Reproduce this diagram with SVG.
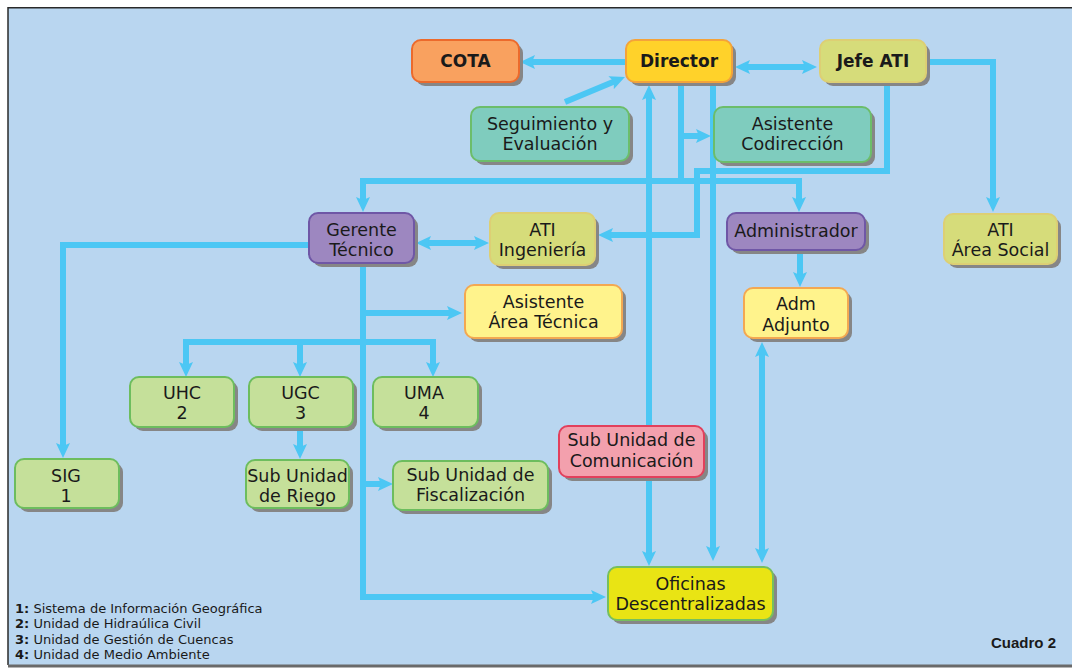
<svg xmlns="http://www.w3.org/2000/svg" width="1072" height="668" viewBox="0 0 1072 668">
<defs>
<marker id="ah" viewBox="0 0 15 14" markerWidth="15" markerHeight="14" refX="4" refY="7" orient="auto-start-reverse" markerUnits="userSpaceOnUse">
<path d="M0,0 L15,7 L0,14 L3,7 z" fill="#4cc7f4"/>
</marker>
</defs>
<style>
.c{fill:none;stroke:#4cc7f4;stroke-width:6;stroke-linejoin:miter}
.a{marker-end:url(#ah)}
.b{marker-start:url(#ah);marker-end:url(#ah)}
.sh{fill:#868686}
.n{stroke-width:2}
.t{font-family:"DejaVu Sans",Verdana,sans-serif;font-size:17.5px;fill:#1a1a1a;text-anchor:middle}
.tb{font-family:"DejaVu Sans",Verdana,sans-serif;font-size:17px;font-weight:bold;fill:#1a1a1a;text-anchor:middle}
.or{fill:#f9a15f;stroke:#ec6a2c}
.dir{fill:#ffd22a;stroke:#f4a33a}
.ati{fill:#d6dc7a;stroke:#ddcf74}
.tea{fill:#7fccbe;stroke:#6cbd6a}
.pur{fill:#9d87c0;stroke:#6f57a6}
.ly{fill:#fff38c;stroke:#f3a852}
.gr{fill:#c5e09a;stroke:#6dbd5e}
.pk{fill:#f3a0ad;stroke:#e2405c}
.of{fill:#e9e414;stroke:#76bf5e}
.lg{font-family:"DejaVu Sans",Verdana,sans-serif;font-size:13px;fill:#1a1a1a}
</style>
<rect x="0" y="0" width="1072" height="668" fill="#ffffff"/>
<rect x="8" y="8" width="1064" height="657" fill="#b9d6f0"/>
<line x1="8" y1="7.75" x2="1072" y2="7.75" stroke="#2a2a2a" stroke-width="1.5"/>
<line x1="8" y1="7" x2="8" y2="665" stroke="#2a2a2a" stroke-width="1.5"/>
<line x1="8" y1="666" x2="1072" y2="666" stroke="#6a6a6a" stroke-width="3"/>

<g id="connectors">
<path class="c a" d="M626,62 H531"/>
<path class="c b" d="M746,67 H806"/>
<path class="c a" d="M565,102 L614.8,81.2"/>
<path class="c a" d="M926,62 H993 V201"/>
<path class="c a" d="M887,82 V171 H697 V235 H609"/>
<path class="c" d="M681,82 V181"/>
<path class="c a" d="M681,136 H700"/>
<path class="c b" d="M363,201 V181 H799 V201"/>
<path class="c a" d="M713,82 V550"/>
<path class="c b" d="M649,96 V555"/>
<path class="c b" d="M762,353 V552"/>
<path class="c a" d="M800,250 V276"/>
<path class="c a" d="M309,245 H63 V447"/>
<path class="c b" d="M427,243 H478"/>
<path class="c a" d="M363,263 V597 H595"/>
<path class="c a" d="M363,313 H451"/>
<path class="c b" d="M186,366 V342 H433 V366"/>
<path class="c a" d="M300,342 V366"/>
<path class="c a" d="M300,427 V448"/>
<path class="c a" d="M363,484 H382"/>
</g>

<g id="cota">
<rect class="sh" x="416" y="44" width="107" height="42" rx="9"/>
<rect class="n or" x="412" y="40" width="107" height="42" rx="9"/>
<text class="tb" x="465.5" y="67">COTA</text>
</g>
<g id="director">
<rect class="sh" x="630" y="44" width="106" height="42" rx="9"/>
<rect class="n dir" x="626" y="40" width="106" height="42" rx="9"/>
<text class="tb" x="679" y="67">Director</text>
</g>
<g id="jefe-ati">
<rect class="sh" x="824" y="44" width="106" height="42" rx="9"/>
<rect class="n ati" x="820" y="40" width="106" height="42" rx="9"/>
<text class="tb" x="873" y="67">Jefe ATI</text>
</g>
<g id="seguimiento">
<rect class="sh" x="475" y="111" width="158" height="54" rx="9"/>
<rect class="n tea" x="471" y="107" width="158" height="54" rx="9"/>
<text class="t" x="550" y="130">Seguimiento y</text>
<text class="t" x="550" y="150">Evaluación</text>
</g>
<g id="asistente-codireccion">
<rect class="sh" x="718" y="111" width="157" height="55" rx="9"/>
<rect class="n tea" x="714" y="107" width="157" height="55" rx="9"/>
<text class="t" x="792.5" y="130">Asistente</text>
<text class="t" x="792.5" y="150">Codirección</text>
</g>
<g id="gerente-tecnico">
<rect class="sh" x="313" y="217" width="105" height="50" rx="9"/>
<rect class="n pur" x="309" y="213" width="105" height="50" rx="9"/>
<text class="t" x="361.5" y="236">Gerente</text>
<text class="t" x="361.5" y="256">Técnico</text>
</g>
<g id="ati-ingenieria">
<rect class="sh" x="494" y="217" width="105" height="52" rx="9"/>
<rect class="n ati" x="490" y="213" width="105" height="52" rx="9"/>
<text class="t" x="542.5" y="236">ATI</text>
<text class="t" x="542.5" y="256">Ingeniería</text>
</g>
<g id="administrador">
<rect class="sh" x="731" y="217" width="138" height="37" rx="9"/>
<rect class="n pur" x="727" y="213" width="138" height="37" rx="9"/>
<text class="t" x="796" y="237">Administrador</text>
</g>
<g id="ati-area-social">
<rect class="sh" x="948" y="218" width="113" height="50" rx="9"/>
<rect class="n ati" x="944" y="214" width="113" height="50" rx="9"/>
<text class="t" x="1000.5" y="236">ATI</text>
<text class="t" x="1000.5" y="256">Área Social</text>
</g>
<g id="asistente-area-tecnica">
<rect class="sh" x="469" y="289" width="157" height="53" rx="9"/>
<rect class="n ly" x="465" y="285" width="157" height="53" rx="9"/>
<text class="t" x="543.5" y="308">Asistente</text>
<text class="t" x="543.5" y="328">Área Técnica</text>
</g>
<g id="adm-adjunto">
<rect class="sh" x="748" y="292" width="104" height="50" rx="9"/>
<rect class="n ly" x="744" y="288" width="104" height="50" rx="9"/>
<text class="t" x="796" y="310">Adm</text>
<text class="t" x="796" y="331">Adjunto</text>
</g>
<g id="uhc">
<rect class="sh" x="134" y="381" width="104" height="50" rx="9"/>
<rect class="n gr" x="130" y="377" width="104" height="50" rx="9"/>
<text class="t" x="182" y="399">UHC</text>
<text class="t" x="182" y="419">2</text>
</g>
<g id="ugc">
<rect class="sh" x="253" y="381" width="104" height="50" rx="9"/>
<rect class="n gr" x="249" y="377" width="104" height="50" rx="9"/>
<text class="t" x="300.5" y="399">UGC</text>
<text class="t" x="300.5" y="419">3</text>
</g>
<g id="uma">
<rect class="sh" x="377" y="381" width="105" height="50" rx="9"/>
<rect class="n gr" x="373" y="377" width="105" height="50" rx="9"/>
<text class="t" x="424" y="399">UMA</text>
<text class="t" x="424" y="419">4</text>
</g>
<g id="sig">
<rect class="sh" x="19" y="463" width="104" height="49" rx="9"/>
<rect class="n gr" x="15" y="459" width="104" height="49" rx="9"/>
<text class="t" x="66" y="482">SIG</text>
<text class="t" x="66" y="502">1</text>
</g>
<g id="sub-unidad-riego">
<rect class="sh" x="250" y="464" width="103" height="48" rx="9"/>
<rect class="n gr" x="246" y="460" width="103" height="48" rx="9"/>
<text class="t" x="297.5" y="482">Sub Unidad</text>
<text class="t" x="297.5" y="502">de Riego</text>
</g>
<g id="sub-unidad-fiscalizacion">
<rect class="sh" x="397" y="465" width="155" height="49" rx="9"/>
<rect class="n gr" x="393" y="461" width="155" height="49" rx="9"/>
<text class="t" x="470.5" y="481">Sub Unidad de</text>
<text class="t" x="470.5" y="501">Fiscalización</text>
</g>
<g id="sub-unidad-comunicacion">
<rect class="sh" x="563" y="430" width="145" height="51" rx="9"/>
<rect class="n pk" x="559" y="426" width="145" height="51" rx="9"/>
<text class="t" x="631.5" y="446">Sub Unidad de</text>
<text class="t" x="631.5" y="467">Comunicación</text>
</g>
<g id="oficinas">
<rect class="sh" x="612" y="571" width="165" height="53" rx="9"/>
<rect class="n of" x="608" y="567" width="165" height="53" rx="9"/>
<text class="t" x="690.5" y="590">Oficinas</text>
<text class="t" x="690.5" y="610">Descentralizadas</text>
</g>

<g id="legend">
<text class="lg" x="15" y="613"><tspan font-weight="bold">1:</tspan> Sistema de Información Geográfica</text>
<text class="lg" x="15" y="628"><tspan font-weight="bold">2:</tspan> Unidad de Hidraúlica Civil</text>
<text class="lg" x="15" y="644"><tspan font-weight="bold">3:</tspan> Unidad de Gestión de Cuencas</text>
<text class="lg" x="15" y="659"><tspan font-weight="bold">4:</tspan> Unidad de Medio Ambiente</text>
</g>
<text x="1056" y="648" font-family="Liberation Sans, Arial, sans-serif" font-size="15" font-weight="bold" fill="#1a1a1a" text-anchor="end">Cuadro 2</text>
</svg>
